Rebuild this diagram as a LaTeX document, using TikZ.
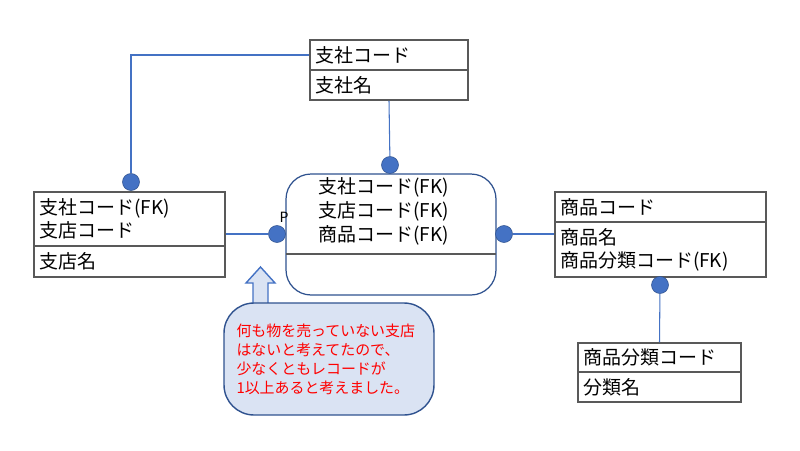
\documentclass[tikz,border=0pt]{standalone}
\usepackage{fontspec}
\setmainfont{Noto Sans CJK JP}
\usepackage{tikz}
\usetikzlibrary{positioning}

\definecolor{linea}{HTML}{4472C4}
\definecolor{borde}{HTML}{2F528F}
\definecolor{nota}{HTML}{DAE3F3}

\tikzset{
	tabla/.style={draw=black!65, line width=0.9pt, text width=#1, inner xsep=3pt, inner ysep=0pt,
		align=left, font=\fontsize{10.8}{13}\selectfont},
	punto/.style={circle, fill=linea, draw=borde, line width=0.3pt, minimum size=0.34cm, inner sep=0pt},
	rel/.style={draw=linea, line width=0.6pt}
}

\begin{document}
\begin{tikzpicture}[x=0.02cm, y=-0.02cm]
			\useasboundingbox[fill=white] (0,0) rectangle (800,450);

			% Dibujar las entidades
			\node[tabla=2.95cm, minimum height=0.6cm] (shishaKey) at (389,55) {支社コード};
			\node[tabla=2.95cm, minimum height=0.6cm] (shishaAttr) at (389,85) {支社名};

			\node[tabla=3.61cm, minimum height=1.08cm] (shitenKey) at (129.5,219) {支社コード(FK)\\支店コード};
			\node[tabla=3.61cm, minimum height=0.62cm] (shitenAttr) at (129.5,261.5) {支店名};

			\node[tabla=4.01cm, minimum height=0.6cm] (shohinKey) at (660.5,207) {商品コード};
			\node[tabla=4.01cm, minimum height=1.1cm] (shohinAttr) at (660.5,249.5) {商品名\\商品分類コード(FK)};

			\node[tabla=3.05cm, minimum height=0.58cm] (bunruiKey) at (659.5,357.5) {商品分類コード};
			\node[tabla=3.05cm, minimum height=0.6cm] (bunruiAttr) at (659.5,387) {分類名};

			% Dibujar la entidad de relación
			\node[draw=borde, line width=0.7pt, rounded corners=0.5cm, minimum width=4.2cm, minimum height=2.42cm] (meisai) at (391,234.5) {};
			\draw[draw=black!65, line width=0.9pt] (286,254) -- (496,254);
			\node[anchor=west, align=left, inner sep=0pt, font=\fontsize{10.8}{13.6}\selectfont] (meisaiKey) at (318,211.5) {支社コード(FK)\\支店コード(FK)\\商品コード(FK)};
			\node[font=\fontsize{8}{9}\selectfont, inner sep=0pt] (pmark) at (284,217) {P};

			% Dibujar los puntos
			\node[punto] (d1) at (131,182) {};
			\node[punto] (d2) at (390,165) {};
			\node[punto] (d3) at (277,234) {};
			\node[punto] (d4) at (504,234) {};
			\node[punto] (d5) at (660,285) {};

			% Dibujar las relaciones
			\draw[rel] (shishaKey.west) -| (d1);
			\draw[rel] (shishaAttr.south) -- (d2);
			\draw[rel] (d3 -| shitenKey.east) -- (d3);
			\draw[rel] (d4) -- (d4 -| shohinKey.west);
			\draw[rel] (d5) -- (bunruiKey.north);

			% Dibujar la nota
			\draw[fill=nota, draw=linea, line width=0.8pt] (253,306) -- (253,283) -- (246,283) -- (260.5,267) -- (275,283) -- (268,283) -- (268,306);
			\node[fill=nota, draw=borde, line width=0.8pt, rounded corners=0.6cm, minimum height=2.24cm, text width=3.7cm,
				inner xsep=0.25cm, align=left, text=red, font=\fontsize{8.5}{10.8}\selectfont] (nota) at (329,359)
				{何も物を売っていない支店\\はないと考えてたので、\\少なくともレコードが\\1以上あると考えました。};
		\end{tikzpicture}
\end{document}
